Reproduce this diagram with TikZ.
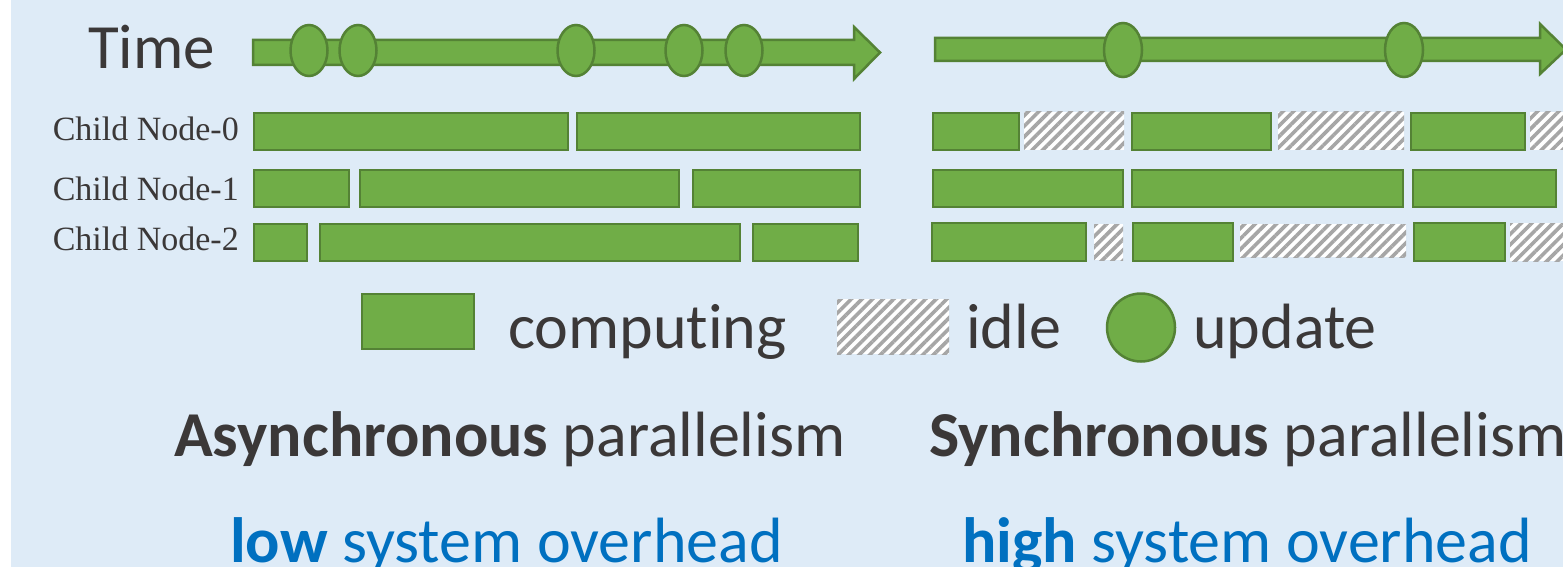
\documentclass[tikz,border=0pt]{standalone}
\usepackage{fontspec}
\setmainfont{Carlito}[Ligatures=NoCommon]
\newfontfamily\timesfont{Liberation Serif}
\usepackage{tikz}
\usetikzlibrary{shapes.geometric, patterns.meta, positioning}
\definecolor{bgBlue}{HTML}{DEEBF7}
\definecolor{barGreen}{HTML}{70AD47}
\definecolor{barEdge}{HTML}{548235}
\definecolor{hatchGray}{HTML}{A6A6A6}
\definecolor{txtGray}{HTML}{3B3838}
\definecolor{ovBlue}{HTML}{0070C0}
\tikzstyle{compBar} = [fill=barGreen, draw=barEdge, line width=2.5pt]
\tikzstyle{idleBar} = [fill=white, postaction={pattern={Lines[angle=45,distance=7.5pt,line width=3.6pt]}, pattern color=hatchGray}]
\tikzstyle{updNode} = [ellipse, fill=barGreen, draw=barEdge, line width=2.5pt, inner sep=0pt]
\tikzstyle{timeArrow} = [fill=barGreen, draw=barEdge, line width=2.5pt, line join=miter]
\tikzstyle{rowLabel} = [anchor=base east, inner sep=0pt, text=txtGray, font=\timesfont\fontsize{34}{40}\selectfont]
\tikzstyle{bigText} = [anchor=base west, inner sep=0pt, text=txtGray, font=\fontsize{64}{70}\selectfont]

\begin{document}
\begin{tikzpicture}[x=1pt, y=-1pt]
    \useasboundingbox (0,0) rectangle (1563,567);
    \clip (0,0) rectangle (1563,567);
    \fill[bgBlue] (11,0) rectangle (1563,567);

    % time lines
    \node (time) [bigText, font=\fontsize{63}{70}\selectfont] at (88,69) {Time};
    \draw[timeArrow] (253,40) -- (854,40) -- (854,27) -- (880,52.5) -- (854,79) -- (854,65) -- (253,65) -- cycle;
    \draw[timeArrow] (935,38) -- (1540,38) -- (1540,24) -- (1566,49.5) -- (1540,74) -- (1540,61) -- (935,61) -- cycle;
    \foreach \x [count=\i] in {309,358,576,684,744}
        \node (aU\i) [updNode, minimum width=37pt, minimum height=51pt] at (\x,50.5) {};
    \foreach \x [count=\i] in {1123,1404}
        \node (sU\i) [updNode, minimum width=38pt, minimum height=54pt] at (\x,50) {};

    % child nodes
    \node (row0) [rowLabel] at (239,141) {Child Node-0};
    \node (row1) [rowLabel] at (239,200) {Child Node-1};
    \node (row2) [rowLabel] at (239,250) {Child Node-2};

    % asynchronous
    \foreach \a/\b in {254/568, 577/860}
        \draw[compBar] (\a,113) rectangle (\b,150);
    \foreach \a/\b in {254/349, 360/679, 693/860}
        \draw[compBar] (\a,170) rectangle (\b,207);
    \foreach \a/\b in {254/307, 320/740, 753/858}
        \draw[compBar] (\a,224) rectangle (\b,261);

    % synchronous
    \foreach \a/\b in {1024/1124, 1278/1404, 1530/1570}
        \fill[idleBar] (\a,112) rectangle (\b,150);
    \foreach \a/\b in {933/1019, 1132/1271, 1411/1525}
        \draw[compBar] (\a,113) rectangle (\b,150);
    \foreach \a/\b in {933/1123, 1132/1403, 1413/1556}
        \draw[compBar] (\a,170) rectangle (\b,207);
    \fill[idleBar] (1094,224) rectangle (1123,260);
    \fill[idleBar] (1240,224) rectangle (1406,257);
    \fill[idleBar] (1510,223) rectangle (1570,261);
    \foreach \a/\b in {932/1086, 1133/1233, 1414/1505}
        \draw[compBar] (\a,223) rectangle (\b,261);

    % legend
    \node (compKey) [compBar, minimum width=112pt, minimum height=55pt] at (418,321.5) {};
    \node (compTxt) [bigText] at (508,348) {computing};
    \node (idleKey) [idleBar, minimum width=112pt, minimum height=55pt] at (893,326.5) {};
    \node (idleTxt) [bigText] at (966,348) {idle};
    \node (updKey) [updNode, minimum width=68pt, minimum height=68pt] at (1141,327.5) {};
    \node (updTxt) [bigText] at (1193,348) {update};

    % captions
    \node (asyncTxt) [bigText] at (174,456) {\textbf{Asynchronous} parallelism};
    \node (syncTxt) [bigText] at (929,456) {\textbf{Synchronous} parallelism};
    \node (lowTxt) [bigText, text=ovBlue] at (230,562) {\textbf{low} system overhead};
    \node (highTxt) [bigText, text=ovBlue] at (962,562) {\textbf{high} system overhead};
\end{tikzpicture}
\end{document}
